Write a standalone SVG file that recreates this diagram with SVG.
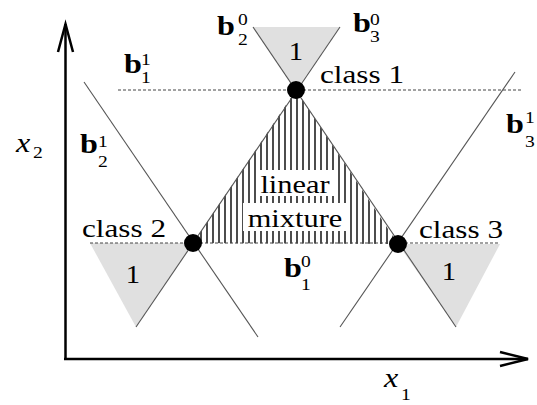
<svg xmlns="http://www.w3.org/2000/svg" width="537" height="405" viewBox="0 0 537 405">
<style>
.t,.b,.s,.i{font-family:"Liberation Serif",serif;fill:#000}
.t{font-size:26px}
.b{font-size:28px;font-weight:bold}
.s{font-size:17px}
.i{font-size:28px;font-style:italic}
.ln{stroke:#555;stroke-width:1.1;fill:none}
.ds{stroke:#444;stroke-width:1;stroke-dasharray:3,2;fill:none}
.ax{stroke:#000;stroke-width:2.5;fill:none}
.gray{fill:#e0e0e0;stroke:none}
</style>
<defs>
<pattern id="hatch" patternUnits="userSpaceOnUse" width="6" height="10">
<rect width="6" height="10" fill="#fff"/>
<line x1="3" y1="0" x2="3" y2="10" stroke="#000" stroke-width="1.4"/>
</pattern>
</defs>
<rect width="537" height="405" fill="#fff"/>
<g id="regions">
<polygon class="gray" points="253,27 340,27 296,90"/>
<polygon class="gray" points="90,243 193,243 136,327"/>
<polygon class="gray" points="398,244 500,244 456,327"/>
<polygon points="296,90 193,243 398,244" fill="url(#hatch)"/>
<rect x="256" y="170" width="78" height="26" fill="#fff"/>
<rect x="243" y="203" width="103" height="28" fill="#fff"/>
</g>
<g id="connectors">
<line class="ds" x1="118" y1="90" x2="522" y2="90"/>
<line class="ds" x1="90" y1="243" x2="500" y2="243"/>
<line class="ln" x1="340" y1="27" x2="136" y2="327"/>
<line class="ln" x1="253" y1="27" x2="456" y2="327"/>
<line class="ln" x1="84" y1="82" x2="258" y2="337"/>
<line class="ln" x1="515" y1="72" x2="340" y2="327"/>
<line class="ax" x1="65.5" y1="359" x2="65.5" y2="24"/>
<polyline class="ax" points="58,52 65.5,24 73,52"/>
<line class="ax" x1="64" y1="359" x2="528" y2="359"/>
<polyline class="ax" points="500,352 528,359 500,366"/>
</g>
<g id="class1"><circle cx="296" cy="90" r="9" fill="#000"/><text class="t" transform="translate(320,83) scale(1.2,1)">class 1</text></g>
<g id="class2"><circle cx="193" cy="243" r="9" fill="#000"/><text class="t" transform="translate(82,237) scale(1.2,1)">class 2</text></g>
<g id="class3"><circle cx="398" cy="244" r="9" fill="#000"/><text class="t" transform="translate(419,238) scale(1.2,1)">class 3</text></g>
<g id="mixture">
<text class="t" text-anchor="middle" transform="translate(295,193) scale(1.17,1)">linear</text>
<text class="t" text-anchor="middle" transform="translate(295,227) scale(1.17,1)">mixture</text>
</g>
<g id="ones">
<text class="t" text-anchor="middle" transform="translate(296,60) scale(1.1,1)">1</text>
<text class="t" text-anchor="middle" transform="translate(133,283) scale(1.1,1)">1</text>
<text class="t" text-anchor="middle" transform="translate(449,280) scale(1.1,1)">1</text>
</g>
<g id="b20"><text class="b" transform="translate(217,35) scale(1.15,1)">b</text><text class="s" transform="translate(238,25) scale(1.15,1)">0</text><text class="s" transform="translate(238,45) scale(1.15,1)">2</text></g>
<g id="b30"><text class="b" transform="translate(353,32) scale(1.15,1)">b</text><text class="s" transform="translate(370,25) scale(1.15,1)">0</text><text class="s" transform="translate(370,42) scale(1.15,1)">3</text></g>
<g id="b11"><text class="b" transform="translate(124,73) scale(1.15,1)">b</text><text class="s" transform="translate(141,65) scale(1.15,1)">1</text><text class="s" transform="translate(141,83) scale(1.15,1)">1</text></g>
<g id="b21"><text class="b" transform="translate(80,153) scale(1.15,1)">b</text><text class="s" transform="translate(98,147) scale(1.15,1)">1</text><text class="s" transform="translate(98,167) scale(1.15,1)">2</text></g>
<g id="b31"><text class="b" transform="translate(506,133) scale(1.15,1)">b</text><text class="s" transform="translate(525,123) scale(1.15,1)">1</text><text class="s" transform="translate(525,147) scale(1.15,1)">3</text></g>
<g id="b10"><text class="b" transform="translate(284,277) scale(1.15,1)">b</text><text class="s" transform="translate(301,267) scale(1.15,1)">0</text><text class="s" transform="translate(301,290) scale(1.15,1)">1</text></g>
<g id="x2"><text class="i" transform="translate(16,152) scale(1.15,1)">x</text><text class="s" transform="translate(33,158) scale(1.15,1)">2</text></g>
<g id="x1"><text class="i" transform="translate(384,387) scale(1.15,1)">x</text><text class="s" transform="translate(401,400) scale(1.15,1)">1</text></g>
</svg>
